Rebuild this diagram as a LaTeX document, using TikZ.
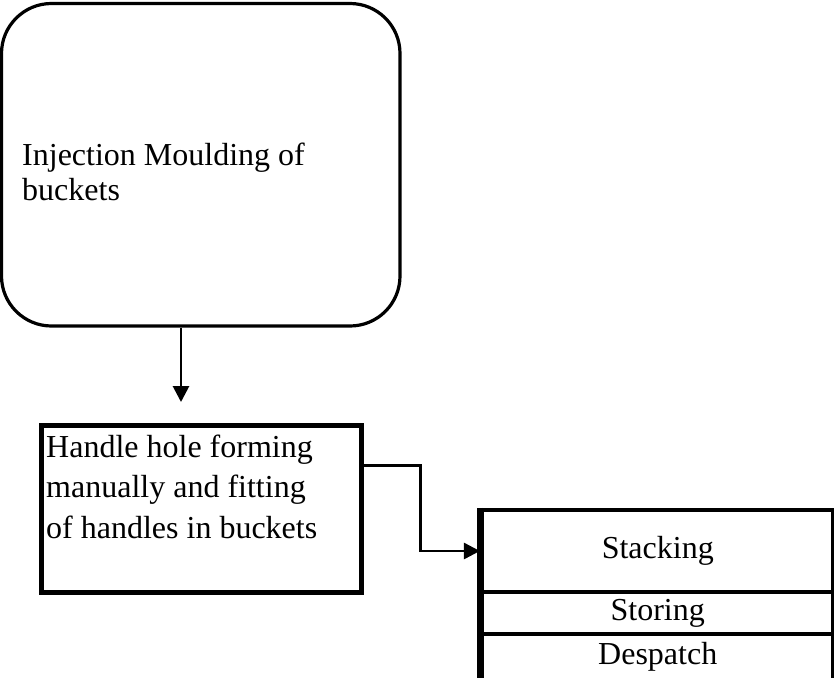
\documentclass[tikz,border=0pt]{standalone}
\usepackage{fontspec}
\setmainfont{Liberation Serif}
\usetikzlibrary{arrows.meta}
\begin{document}
\begin{tikzpicture}[x=1pt,y=-1pt,
  startbox/.style={draw=black, line width=3.2pt, rounded corners=50pt, inner sep=0pt},
  procbox/.style={draw=black, line width=5pt, inner sep=0pt},
  stagebox/.style={draw=black, line width=4.2pt, inner sep=0pt,
    minimum width=351.5pt, font=\fontsize{32}{38}\selectfont},
  boxtext/.style={inner sep=0pt, align=left, anchor=base west},
  flow/.style={draw=black, line width=2.8pt,
    -{Triangle[length=16pt,width=16pt]}}]
\useasboundingbox (0,0) rectangle (834,677);

% moulding step
\node[startbox, minimum width=398.5pt, minimum height=322.5pt] (mould) at (200.75,164.75) {};
\node[boxtext, font=\fontsize{32}{35}\selectfont] (mouldtext) at (22,200)
  {Injection Moulding of\\buckets};

% handle fitting step
\node[procbox, minimum width=320pt, minimum height=166.5pt] (handle) at (201,508.75) {};
\node[boxtext, font=\fontsize{32}{40.5}\selectfont] (handletext) at (46,538)
  {Handle hole forming\\manually and fitting\\of handles in buckets};

% final stages
\node[stagebox, minimum height=82pt] (stack) at (657.75,551) {Stacking};
\node[stagebox, minimum height=42pt] (store) at (657.75,613) {Storing};
\node[stagebox, minimum height=46pt] (ship) at (657.75,657) {Despatch};
\draw[line width=5.5pt] (stack.north west) -- (ship.south west);

% connectors
\coordinate (handletop) at (181,402);
\draw[flow] (mould.south -| handletop) -- (handletop);
\draw[flow] ([yshift=43.5pt]handle.east) -- ++(57,0) |- (stack.west);
\end{tikzpicture}
\end{document}
